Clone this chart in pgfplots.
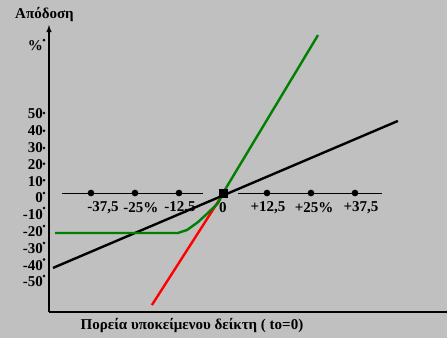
\documentclass[border=0pt]{standalone}
\usepackage{pgfplots}
\pgfplotsset{compat=1.18}
\usepackage{fontspec}
\setmainfont{Liberation Serif}
\definecolor{bg}{RGB}{192,192,192}
\definecolor{grn}{RGB}{0,128,0}
\definecolor{rd}{RGB}{255,0,0}
\begin{document}
\begin{tikzpicture}[font=\bfseries\fontsize{15}{17}\selectfont]
\fill[bg] (0,0) rectangle (447pt,338pt);
\useasboundingbox (0,0) rectangle (447pt,338pt);
\begin{axis}[at={(49pt,26pt)}, anchor=south west, scale only axis,
  width=398pt, height=287pt,
  xmin=-49.43, xmax=63.64, ymin=-70.83, ymax=100, clip=false,
  axis x line=bottom, axis y line=left,
  x axis line style={-, line width=1.4pt},
  y axis line style={-latex, line width=1.4pt},
  xtick=\empty,
  ytick={-50,-40,-30,-20,-10,0,10,20,30,40,50,91},
  yticklabels={-50,-40,-30,-20,-10,0,10,20,30,40,50,\%},
  major tick length=0pt,
  yticklabel style={anchor=east, inner sep=0pt, xshift=-6pt, yshift=-5pt, font=\bfseries\fontsize{15}{17}\selectfont},
]
% y-axis tick dots
\addplot[only marks, mark=*, mark size=1.1pt, black] coordinates {
(-50.85,-49.4) (-50.85,-39.6) (-50.85,-29.8) (-50.85,-19.6) (-50.85,-8.9) (-50.85,0)
(-50.85,7.6) (-50.85,17.4) (-50.85,26.8) (-50.85,37.1) (-50.85,47.6) (-50.85,91)};
% zero line
\addplot[black, line width=1pt] coordinates {(-45.7,0) (-5.7,0)};
\addplot[black, line width=1pt] coordinates {(4.3,0) (45.2,0)};
\addplot[only marks, mark=*, mark size=3.1pt, black] coordinates {
(-37.5,0) (-25,0) (-12.5,0) (12.5,0) (25,0) (37.5,0)};
% black line
\addplot[black, line width=2.4pt] coordinates {(-48.3,-44.6) (49.7,42.9)};
% red line
\addplot[rd, line width=2.4pt] coordinates {(-20.2,-66.7) (0.5,1)};
% green line
\addplot[grn, line width=2.4pt] coordinates {
(-47.7,-23.8) (-12.8,-23.8) (-10.2,-22) (-7.1,-17.3) (-4.3,-11.9) (-1.4,-6) (0,0) (27.0,94.0)};
% origin square
\addplot[only marks, mark=square*, mark size=4.2pt, black] coordinates {(0,0)};
% labels of the zero line
\addplot[draw=none, nodes near coords, point meta=explicit symbolic,
  every node near coord/.append style={anchor=center, font=\bfseries\fontsize{15}{17}\selectfont}]
  table[meta=lab] {
x y lab
-34.1 -8.9 {-37,5}
-23.3 -8.9 {-25\%}
-12.2 -8.9 {-12,5}
0 -8.9 0
12.8 -8.9 {+12,5}
25.9 -8.9 {+25\%}
39.2 -8.9 {+37,5}
};
\end{axis}
\node at (44.5pt,323pt) {Απόδοση};
\node at (192pt,12pt) {Πορεία υποκείμενου δείκτη ( to=0)};
\end{tikzpicture}
\end{document}
